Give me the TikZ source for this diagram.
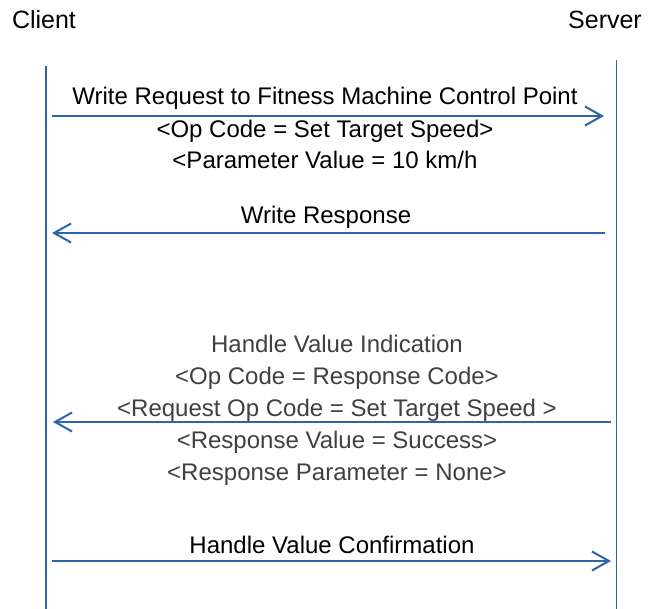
\documentclass[tikz,border=0pt]{standalone}
\usepackage{fontspec}
\setmainfont{Liberation Sans}
\usetikzlibrary{positioning,arrows.meta}
\definecolor{lifeblue}{HTML}{2E64AA}
\definecolor{msggray}{HTML}{404040}

\begin{document}
\begin{tikzpicture}[x=1pt, y=-1pt, >={Straight Barb[length=17pt,width=19pt]}]
        \tikzstyle{every node}=[inner sep=0pt, anchor=base, font=\fontsize{24}{28}\selectfont]
        \tikzstyle{role}=[font=\fontsize{25}{30}\selectfont]
        \tikzstyle{life}=[draw=lifeblue, line width=1.8pt]

        \useasboundingbox (0,0) rectangle (648,609);

        \node   (client)  [role] at (44,29)  {Client};
        \node   (server)  [role] at (605,29) {Server};

        % lifelines
        \coordinate (ctop) at (45.7,66);   \coordinate (cbot) at (45.7,609);
        \coordinate (stop) at (616.5,60);  \coordinate (sbot) at (616.5,609);
        \draw[life] (ctop) -- (cbot);
        \draw[life] (stop) -- (sbot);

        % message ends
        \coordinate (c1) at (52,116);  \coordinate (s1) at (604,116);
        \coordinate (c2) at (52,233);  \coordinate (s2) at (605,233);
        \coordinate (c3) at (53,422);  \coordinate (s3) at (611,422);
        \coordinate (c4) at (52,561);  \coordinate (s4) at (611,561);

        \node   (req)   at (325,105) {Write Request to Fitness Machine Control Point};
        \node   (req1)  at (325,138) {<Op Code = Set Target Speed>};
        \node   (req2)  at (325,169) {<Parameter Value = 10 km/h};
        \node   (resp)  at (326,224) {Write Response};

        \node   (ind)   [msggray] at (337,353) {Handle Value Indication};
        \node   (ind1)  [msggray] at (337,385) {<Op Code = Response Code>};
        \node   (ind2)  [msggray] at (337,417) {<Request Op Code = Set Target Speed >};
        \node   (ind3)  [msggray] at (337,448) {<Response Value = Success>};
        \node   (ind4)  [msggray] at (337,480) {<Response Parameter = None>};

        \node   (conf)  at (332,553) {Handle Value Confirmation};

        \path[->, lifeblue, line width=2pt]
                        (c1) edge (s1)
                        (s2) edge (c2)
                        (s3) edge (c3)
                        (c4) edge (s4);

    \end{tikzpicture}
\end{document}
